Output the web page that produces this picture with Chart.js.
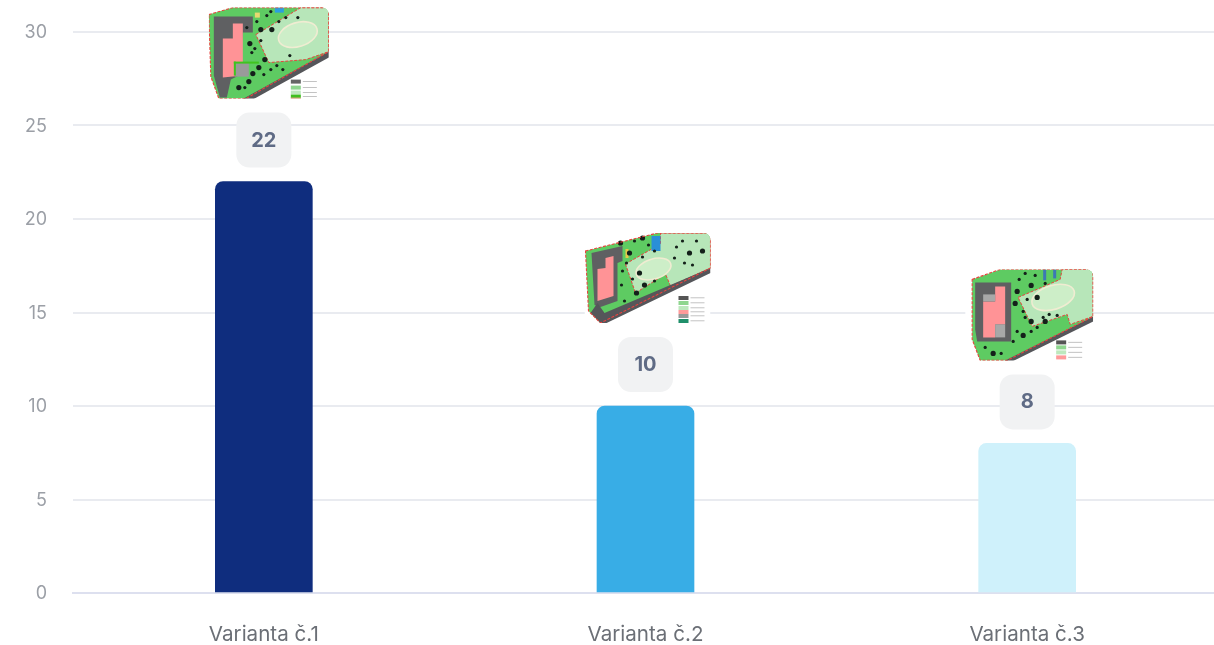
<!DOCTYPE html>
<html>
<head>
<meta charset="utf-8">
<style>
  html, body { margin: 0; padding: 0; background: #fff; overflow: hidden; }
  #wrap { width: 1214px; height: 645px; overflow: hidden; }
  canvas { display: block; filter: blur(0.35px); }
</style>
<script src="https://cdn.jsdelivr.net/npm/chart.js@4"></script>
</head>
<body>
<div id="wrap"><canvas id="chart" width="1240" height="645"></canvas></div>
<script>
const categories = ["Varianta č.1", "Varianta č.2", "Varianta č.3"];
const values = [22, 10, 8];
const barColors = ["#0f2d7e", "#38ade6", "#cff1fb"];
const yTicks = [0, 5, 10, 15, 20, 25, 30];

// site plan thumbnails that sit above each bar, in local px of the thumbnail
const thumbs = [
  {
    dx: -55, w: 120, h: 91,
    site: [[0, 7], [24, 0], [120, 0], [120, 44], [37, 91], [10, 91], [2, 69]],
    road: [[120, 44], [120, 50], [44, 92], [33, 92]],
    lawn: [[47, 27], [92, 0], [120, 0], [120, 44], [97, 52], [60, 55]],
    ring: [89, 27, 20, 12],
    lot: [[5, 9], [44, 9], [44, 25], [34, 25], [30, 68], [22, 72], [18, 90], [11, 90], [5, 68]],
    house: [[24, 16], [34, 16], [34, 68], [14, 70], [14, 31], [24, 31]],
    legend: [[82, 72, "#666"], [82, 78, "#8fd68f"], [82, 83, "#bde8bd"], [82, 87, "#3fbf1f"], [82, 90, "#ff9a9a"]],
    blocks: [[26, 55, 14, 14, "#9a9a9a"], [25, 54, 25, 2, "#3fc41f"], [25, 54, 2, 14, "#3fc41f"], [66, 0, 9, 5, "#2a9fe0"], [46, 5, 5, 5, "#e8d870"]],
    trees: [[63, 22], [77, 10], [46, 41], [56, 52], [81, 48], [89, 10], [41, 36], [52, 33], [70, 14], [50, 60], [62, 62], [74, 62], [40, 74], [36, 80], [43, 45], [52, 22], [58, 8], [38, 20], [44, 66], [55, 67], [68, 58], [30, 80], [48, 14], [62, 4]]
  },
  {
    dx: -61, w: 126, h: 90,
    site: [[1, 18], [73, 0], [126, 0], [126, 35], [16, 90], [4, 78]],
    road: [[126, 35], [126, 40], [18, 92], [6, 80], [13, 70], [20, 80]],
    lawn: [[41, 31], [76, 11], [76, 0], [126, 0], [126, 35], [86, 53], [81, 41], [51, 60]],
    ring: [69, 36, 18, 10],
    lot: [[7, 20], [38, 13], [38, 28], [33, 30], [33, 68], [16, 74], [10, 72]],
    house: [[21, 25], [29, 23], [29, 63], [13, 68], [13, 36], [21, 35]],
    legend: [[94, 63, "#555"], [94, 68, "#8fd68f"], [94, 73, "#bde8bd"], [94, 77, "#ff9a9a"], [94, 81, "#999"], [94, 86, "#1f8f6a"]],
    blocks: [[67, 3, 9, 15, "#2a8fd8"], [41, 16, 3, 9, "#e8c84a"]],
    trees: [[36, 10], [50, 8], [58, 24], [55, 40], [70, 18], [42, 30], [60, 52], [70, 48], [92, 14], [105, 20], [112, 8], [48, 46], [52, 60], [40, 68], [64, 12], [58, 5], [38, 38], [37, 52], [45, 20], [100, 30], [98, 8], [118, 18], [108, 32], [90, 25]]
  },
  {
    dx: -62, w: 128, h: 91,
    site: [[7, 10], [35, 0], [128, 0], [128, 47], [42, 91], [15, 91], [7, 70]],
    road: [[128, 47], [128, 52], [47, 92], [38, 92]],
    lawn: [[53, 28], [95, 10], [97, 0], [128, 0], [128, 47], [105, 55], [102, 45], [67, 57]],
    ring: [88, 28, 22, 12],
    lot: [[10, 13], [46, 13], [46, 72], [12, 72], [10, 60]],
    house: [[30, 17], [40, 17], [40, 55], [30, 55], [30, 68], [18, 68], [18, 32], [30, 32]],
    legend: [[91, 71, "#555"], [91, 76, "#8fd68f"], [91, 81, "#bde8bd"], [91, 86, "#ff9a9a"]],
    blocks: [[18, 25, 12, 7, "#a8a8a8"], [30, 55, 10, 13, "#a8a8a8"], [78, 0, 3, 11, "#3c78b4"], [88, 0, 3, 9, "#3c78b4"]],
    trees: [[52, 22], [58, 42], [60, 48], [66, 52], [78, 48], [60, 4], [66, 16], [80, 14], [52, 62], [58, 66], [66, 62], [36, 84], [28, 84], [54, 10], [70, 6], [50, 34], [72, 58], [48, 72], [80, 52], [62, 30], [20, 78], [72, 28], [84, 45], [92, 46]]
  }
];

function poly(ctx, pts) {
  ctx.beginPath();
  pts.forEach((p, i) => (i ? ctx.lineTo(p[0], p[1]) : ctx.moveTo(p[0], p[1])));
  ctx.closePath();
}

function drawThumb(ctx, t, x, y) {
  ctx.save();
  ctx.translate(x + t.dx, y);
  ctx.beginPath();
  ctx.roundRect(0, 0, t.w, t.h, [0, 7, 0, 0]);
  ctx.clip();
  ctx.fillStyle = "#fff";
  ctx.fillRect(0, 0, t.w, t.h);
  ctx.filter = "blur(0.7px)";

  poly(ctx, t.site);
  ctx.fillStyle = "#5ecb62";
  ctx.fill();
  poly(ctx, t.lawn);
  ctx.fillStyle = "#b7e6b9";
  ctx.fill();
  ctx.strokeStyle = "#e8433f";
  ctx.lineWidth = 1;
  ctx.setLineDash([3, 1.5]);
  ctx.stroke();
  ctx.setLineDash([]);
  ctx.beginPath();
  ctx.ellipse(t.ring[0], t.ring[1], t.ring[2], t.ring[3], -0.3, 0, Math.PI * 2);
  ctx.fillStyle = "#cdeec8";
  ctx.fill();
  ctx.strokeStyle = "#f0ecd2";
  ctx.lineWidth = 1.6;
  ctx.stroke();
  poly(ctx, t.lot);
  ctx.fillStyle = "#5f6062";
  ctx.fill();
  poly(ctx, t.road);
  ctx.fillStyle = "#55565a";
  ctx.fill();
  poly(ctx, t.house);
  ctx.fillStyle = "#ff9396";
  ctx.fill();
  t.blocks.forEach(r => {
    ctx.fillStyle = r[4];
    ctx.fillRect(r[0], r[1], r[2], r[3]);
  });
  ctx.fillStyle = "#14201a";
  t.trees.forEach((p, i) => {
    ctx.beginPath();
    ctx.arc(p[0], p[1], i % 3 ? 1.6 : 2.6, 0, Math.PI * 2);
    ctx.fill();
  });
  poly(ctx, t.site);
  ctx.strokeStyle = "#e8433f";
  ctx.lineWidth = 1.1;
  ctx.setLineDash([3, 1.5]);
  ctx.stroke();
  ctx.setLineDash([]);
  t.legend.forEach(l => {
    ctx.fillStyle = l[2];
    ctx.fillRect(l[0], l[1], 10, 4);
    ctx.fillStyle = "#aaa";
    ctx.fillRect(l[0] + 12, l[1] + 1.5, 14, 0.7);
  });
  ctx.restore();
}

// value badge + thumbnail above every bar
const badgePlugin = {
  id: "badges",
  afterDatasetsDraw(chart) {
    const ctx = chart.ctx;
    chart.getDatasetMeta(0).data.forEach((bar, i) => {
      const badgeTop = bar.y - 69;
      ctx.save();
      ctx.beginPath();
      ctx.roundRect(bar.x - 27.5, badgeTop, 55, 55, 13);
      ctx.fillStyle = "#f1f2f3";
      ctx.fill();
      ctx.fillStyle = "#5f6b85";
      ctx.font = "700 20px Inter";
      ctx.textAlign = "center";
      ctx.textBaseline = "middle";
      ctx.fillText(String(values[i]), bar.x, badgeTop + 28);
      ctx.restore();
      drawThumb(ctx, thumbs[i], bar.x, badgeTop - 14 - thumbs[i].h);
    });
  }
};

new Chart(document.getElementById("chart"), {
  type: "bar",
  data: {
    labels: categories,
    datasets: [{
      data: values,
      backgroundColor: barColors,
      barThickness: 97,
      borderRadius: { topLeft: 8, topRight: 8 },
      borderSkipped: "bottom"
    }]
  },
  options: {
    responsive: false,
    animation: false,
    devicePixelRatio: 1,
    layout: { padding: { top: 32, right: 22 } },
    plugins: { legend: { display: false }, tooltip: { enabled: false } },
    scales: {
      x: {
        afterFit(scale) { scale.height = 52; },
        grid: { display: false },
        border: { color: "#dde0ef", width: 2 },
        ticks: { color: "#6b6f76", font: { family: "Inter", size: 20.6 }, padding: 21, maxRotation: 0 }
      },
      y: {
        min: 0,
        max: 30,
        afterFit(scale) {
          scale.width = 73;
          // tick padding would otherwise push the plot area down
          scale.paddingTop = 0;
          scale.paddingBottom = 0;
        },
        afterBuildTicks(scale) { scale.ticks = yTicks.map(v => ({ value: v })); },
        border: { display: false },
        grid: { color: "#e9ebf0", lineWidth: 2, tickLength: 0 },
        ticks: { color: "#9b9fa6", font: { family: "Inter", size: 18 }, padding: 26, labelOffset: 1 }
      }
    }
  },
  plugins: [badgePlugin]
});
</script>
</body>
</html>
